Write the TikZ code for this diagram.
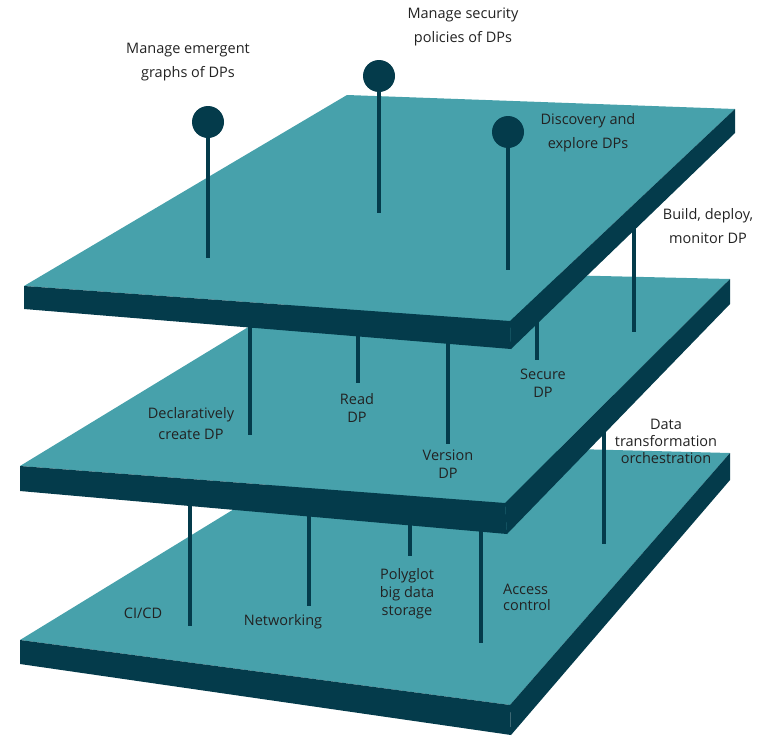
\documentclass[tikz,border=0pt]{standalone}
\usepackage{fontspec}
\setmainfont{Open Sans}
\usepackage{xcolor}
\definecolor{slabface}{HTML}{47A1AB}
\definecolor{slabside}{HTML}{043B4B}
\definecolor{labeltext}{HTML}{222222}

\tikzset{
  stem/.style={slabside, line width=4.5pt},
  pinhead/.style={circle, fill=slabside, minimum size=32pt, inner sep=0pt},
  lbl/.style={align=center, text=labeltext, inner sep=0pt, font=\fontsize{14.5}{18}\selectfont},
  toplbl/.style={lbl, font=\fontsize{14.5}{24}\selectfont},
}

\begin{document}
\begin{tikzpicture}[x=1pt, y=-1pt]
        \useasboundingbox (0,0) rectangle (767,736);
        % bottom slab
        \fill [slabface] (342,443) -- (730,453) -- (510,705) -- (20,640) -- cycle;
        \fill [slabside] (20,640) -- (510,705) -- (511,735) -- (20,664) -- cycle;
        \fill [slabside] (510,705) -- (730,453) -- (730,480) -- (511,735) -- cycle;
        % stems middle -> bottom
        \coordinate (cicdTop) at (190,490);       \coordinate (cicdFoot) at (190,626);
        \coordinate (netTop) at (309,500);        \coordinate (netFoot) at (309,606);
        \coordinate (storeTop) at (410,510);      \coordinate (storeFoot) at (410,556);
        \coordinate (accessTop) at (481,515);     \coordinate (accessFoot) at (481,643);
        \coordinate (orchTop) at (604,428);       \coordinate (orchFoot) at (604,544);
        \draw [stem] (cicdTop) -- (cicdFoot);
        \draw [stem] (netTop) -- (netFoot);
        \draw [stem] (storeTop) -- (storeFoot);
        \draw [stem] (accessTop) -- (accessFoot);
        \draw [stem] (orchTop) -- (orchFoot);
        % middle slab
        \fill [slabface] (342,270) -- (730,279) -- (505,503) -- (20,466) -- cycle;
        \fill [slabside] (20,466) -- (505,503) -- (507,534) -- (20,491) -- cycle;
        \fill [slabside] (505,503) -- (730,279) -- (730,304) -- (507,534) -- cycle;
        % stems top -> middle
        \coordinate (createTop) at (250,310);     \coordinate (createFoot) at (250,435);
        \coordinate (readTop) at (358,320);       \coordinate (readFoot) at (358,383);
        \coordinate (versionTop) at (448,325);    \coordinate (versionFoot) at (448,444);
        \coordinate (secureTop) at (537,318);     \coordinate (secureFoot) at (537,360);
        \coordinate (buildTop) at (634,220);      \coordinate (buildFoot) at (634,332);
        \draw [stem] (createTop) -- (createFoot);
        \draw [stem] (readTop) -- (readFoot);
        \draw [stem] (versionTop) -- (versionFoot);
        \draw [stem] (secureTop) -- (secureFoot);
        \draw [stem] (buildTop) -- (buildFoot);
        % top slab
        \fill [slabface] (347,95) -- (735,109) -- (510,321) -- (24,286) -- cycle;
        \fill [slabside] (24,286) -- (510,321) -- (511,349) -- (24,309) -- cycle;
        \fill [slabside] (510,321) -- (735,109) -- (735,133) -- (511,349) -- cycle;
        % pins on top
        \node (pinGraphs) [pinhead] at (208,122) {};
        \node (pinPolicy) [pinhead] at (379,76) {};
        \node (pinDiscover) [pinhead] at (508,132) {};
        \coordinate (footGraphs) at (208,258);
        \coordinate (footPolicy) at (379,213);
        \coordinate (footDiscover) at (508,270);
        \draw [stem] (pinGraphs) -- (footGraphs);
        \draw [stem] (pinPolicy) -- (footPolicy);
        \draw [stem] (pinDiscover) -- (footDiscover);
        % labels
        \node (graphsLbl) [toplbl] at (188,62) {Manage emergent\\graphs of DPs};
        \node (policyLbl) [toplbl] at (463,27) {Manage security\\policies of DPs};
        \node (discoverLbl) [toplbl] at (588,133) {Discovery and\\explore DPs};
        \node (buildLbl) [toplbl] at (708,226) {Build, deploy,\\monitor DP};
        \node (createLbl) [lbl, font=\fontsize{14.5}{21}\selectfont] at (191,424) {Declaratively\\create DP};
        \node (readLbl) [lbl] at (357,408) {Read\\DP};
        \node (versionLbl) [lbl] at (448,464) {Version\\DP};
        \node (secureLbl) [lbl] at (543,383) {Secure\\DP};
        \node (orchLbl) [lbl, font=\fontsize{14.5}{17}\selectfont] at (666,441) {Data\\transformation\\orchestration};
        \node (cicdLbl) [lbl] at (143,613) {CI/CD};
        \node (netLbl) [lbl] at (283,622) {Networking};
        \node (storeLbl) [lbl] at (407,594) {Polyglot\\big data\\storage};
        \node (accessLbl) [lbl, align=left, font=\fontsize{14.5}{16}\selectfont] at (527,597) {Access\\control};
\end{tikzpicture}
\end{document}
